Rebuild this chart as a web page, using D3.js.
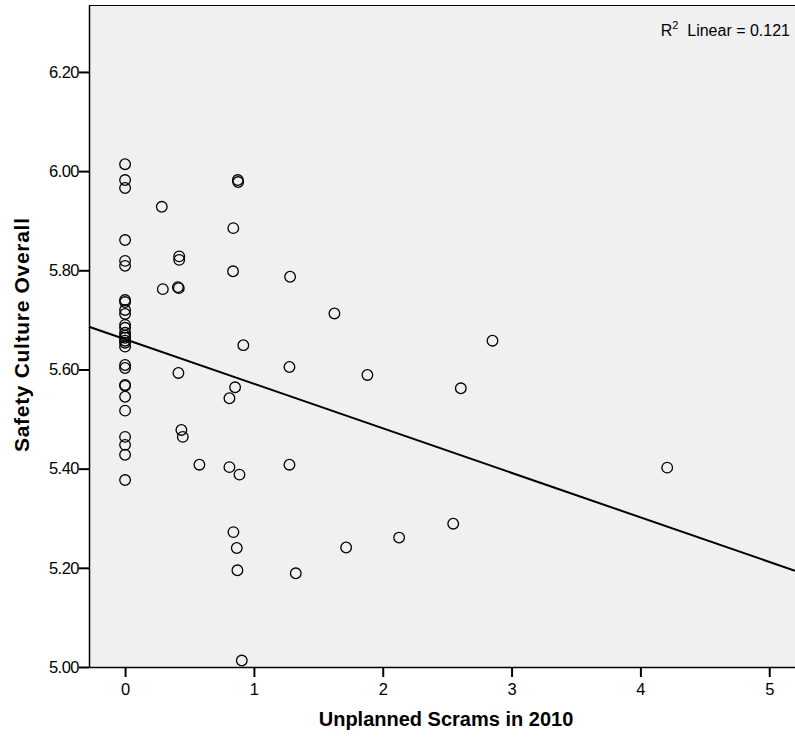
<!DOCTYPE html>
<html>
<head>
<meta charset="utf-8">
<script src="https://cdn.jsdelivr.net/npm/d3@7"></script>
<style>
  body { margin: 0; background: #fff; }
  svg text { font-family: "Liberation Sans", Arial, sans-serif; }
</style>
</head>
<body>
<div id="chart"></div>
<script>
// data
var scrams = [
  0, 0, 0, 0, 0, 0, 0, 0, 0, 0, 0, 0, 0, 0, 0, 0, 0, 0, 0, 0, 0, 0, 0, 0, 0, 0, 0, 0,
  0.285, 0.293, 0.42, 0.42, 0.417, 0.41, 0.414, 0.437, 0.448, 0.577,
  0.875, 0.878, 0.84, 0.838, 0.918, 0.854, 0.81, 0.81, 0.888, 0.841, 0.867, 0.872, 0.906,
  1.281, 1.276, 1.276, 1.325, 1.625, 1.716, 1.881, 2.127, 2.547, 2.606, 2.852, 4.208
];
var safety = [
  6.014, 5.982, 5.966, 5.861, 5.819, 5.809, 5.740, 5.736, 5.720, 5.712, 5.690, 5.684,
  5.674, 5.668, 5.664, 5.658, 5.654, 5.646, 5.609, 5.603, 5.569, 5.567, 5.545, 5.517,
  5.464, 5.448, 5.428, 5.377,
  5.928, 5.762, 5.828, 5.821, 5.764, 5.766, 5.593, 5.478, 5.464, 5.408,
  5.982, 5.978, 5.885, 5.798, 5.649, 5.564, 5.542, 5.403, 5.388, 5.272, 5.240, 5.195, 5.013,
  5.787, 5.605, 5.408, 5.189, 5.713, 5.241, 5.589, 5.261, 5.289, 5.562, 5.658, 5.402
];
var xTicks = [0, 1, 2, 3, 4, 5];
var yTicks = [5.0, 5.2, 5.4, 5.6, 5.8, 6.0, 6.2];
var fitIntercept = 5.661;
var fitSlope = -0.0898;
var r2 = "0.121";

drawChart();

function drawChart(){
  var W = 795, H = 740;
  var m = {left: 89, top: 5, right: 795, bottom: 667};

  var x = d3.scaleLinear().domain([-0.28, 5.2]).range([m.left, m.right]);
  var y = d3.scaleLinear().domain([5.0, 6.335]).range([m.bottom, m.top]);

  var svg = d3.select("#chart").append("svg")
    .attr("width", W)
    .attr("height", H);

  svg.append("rect")
    .attr("x", m.left).attr("y", m.top)
    .attr("width", m.right - m.left).attr("height", m.bottom - m.top)
    .attr("fill", "#f0f0f0");

  // top border
  svg.append("line")
    .attr("x1", m.left).attr("x2", m.right)
    .attr("y1", m.top + 0.5).attr("y2", m.top + 0.5)
    .attr("stroke", "#000").attr("stroke-width", 1.2);

  var xAxis = svg.append("g")
    .attr("transform", "translate(0," + m.bottom + ")")
    .call(d3.axisBottom(x).tickValues(xTicks).tickFormat(d3.format("d")).tickSize(10).tickSizeOuter(0));

  var yAxis = svg.append("g")
    .attr("transform", "translate(" + m.left + ",0)")
    .call(d3.axisLeft(y).tickValues(yTicks).tickFormat(d3.format(".2f")).tickSize(10).tickSizeOuter(0));

  [xAxis, yAxis].forEach(function(g) {
    g.attr("font-size", 16.5).attr("font-family", null);
    g.select(".domain").attr("stroke", "#000").attr("stroke-width", 1.5);
    g.selectAll(".tick line").attr("stroke", "#000").attr("stroke-width", 2);
    g.selectAll(".tick text").attr("fill", "#000");
  });
  xAxis.selectAll(".tick text").attr("dy", "1.0em").attr("y", 11);
  yAxis.selectAll(".tick text").attr("x", -10).attr("letter-spacing", -0.5);

  // fit line
  svg.append("line")
    .attr("x1", x(-0.28)).attr("y1", y(fitIntercept + fitSlope * -0.28))
    .attr("x2", x(5.2)).attr("y2", y(fitIntercept + fitSlope * 5.2))
    .attr("stroke", "#000").attr("stroke-width", 2);

  svg.append("g").selectAll("circle")
    .data(d3.range(scrams.length))
    .enter().append("circle")
    .attr("cx", i => x(scrams[i]))
    .attr("cy", i => y(safety[i]))
    .attr("r", 5.3)
    .attr("fill", "none")
    .attr("stroke", "#000")
    .attr("stroke-width", 1.3);

  var r2t = svg.append("text")
    .attr("x", 790).attr("y", 36)
    .attr("text-anchor", "end")
    .style("font-size", "16px");
  r2t.append("tspan").text("R");
  r2t.append("tspan").attr("dy", -7).style("font-size", "11px").text("2");
  r2t.append("tspan").attr("dy", 7).text("\u00a0 Linear = " + r2);

  svg.append("text")
    .attr("x", 446).attr("y", 726)
    .attr("text-anchor", "middle")
    .style("font-size", "20px").style("font-weight", "bold")
    .text("Unplanned Scrams in 2010");

  svg.append("text")
    .attr("transform", "translate(29,335) rotate(-90)")
    .attr("text-anchor", "middle")
    .attr("textLength", 234)
    .attr("lengthAdjust", "spacing")
    .style("font-size", "21px").style("font-weight", "bold")
    .text("Safety Culture Overall");
}
</script>
</body>
</html>
